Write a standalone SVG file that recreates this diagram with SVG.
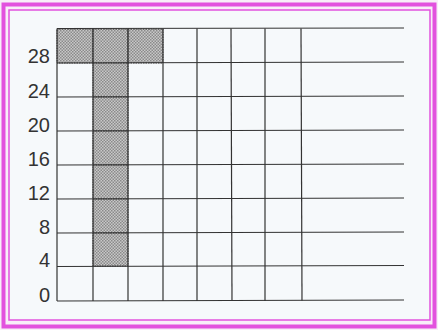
<svg xmlns="http://www.w3.org/2000/svg" width="438" height="330" viewBox="0 0 438 330">
<style>
.g{stroke:#333;stroke-width:1.2;fill:none}
.lbl{font-family:"Liberation Sans",Arial,sans-serif;font-size:20px;fill:#333;text-anchor:end}
.sh{fill:url(#dots);stroke:#444;stroke-width:1;stroke-dasharray:1.5 1}
</style>
<defs>
<pattern id="dots" width="3" height="3" patternUnits="userSpaceOnUse">
<rect width="3" height="3" fill="#c8c8c8"/>
<rect width="1.5" height="1.5" fill="#8a8a8a"/>
<rect x="1.5" y="1.5" width="1.5" height="1.5" fill="#8a8a8a"/>
</pattern>
</defs>
<rect x="0" y="0" width="438" height="330" fill="#f8eef8"/>
<rect x="3.5" y="4.5" width="431" height="322" fill="#f8eef8" stroke="#e252de" stroke-width="4"/>
<rect x="9" y="10" width="421" height="310" fill="#f6f9fb" stroke="#e252de" stroke-width="1.5"/>
<g id="shaded">
<rect class="sh" x="57" y="29" width="36" height="34"/>
<rect class="sh" x="93" y="29" width="35" height="34"/>
<rect class="sh" x="128" y="29" width="35" height="34"/>
<rect class="sh" x="93" y="63" width="35" height="34"/>
<rect class="sh" x="93" y="97" width="35" height="34"/>
<rect class="sh" x="93" y="131" width="35" height="34"/>
<rect class="sh" x="93" y="165" width="35" height="34"/>
<rect class="sh" x="93" y="199" width="35" height="34"/>
<rect class="sh" x="93" y="233" width="35" height="33"/>
</g>
<g id="grid" class="g">
<line x1="57" y1="28.5" x2="404" y2="28"/>
<line x1="57" y1="63" x2="404" y2="62"/>
<line x1="57" y1="97" x2="404" y2="96"/>
<line x1="57" y1="131" x2="404" y2="130"/>
<line x1="57" y1="165" x2="404" y2="164"/>
<line x1="57" y1="199" x2="404" y2="198"/>
<line x1="57" y1="233" x2="404" y2="232"/>
<line x1="57" y1="266.5" x2="404" y2="265.5"/>
<line x1="57" y1="301" x2="404" y2="300"/>
<line x1="57" y1="28.5" x2="57" y2="301"/>
<line x1="93" y1="28.5" x2="93" y2="301"/>
<line x1="128" y1="28.5" x2="128" y2="301"/>
<line x1="163" y1="28.5" x2="163" y2="301"/>
<line x1="197" y1="28.5" x2="197" y2="301"/>
<line x1="231" y1="28.5" x2="232" y2="301"/>
<line x1="265" y1="28.5" x2="265" y2="301"/>
<line x1="301" y1="28.5" x2="302" y2="300.5"/>
</g>
<g id="labels">
<text class="lbl" x="50" y="63">28</text>
<text class="lbl" x="50" y="98">24</text>
<text class="lbl" x="50" y="132">20</text>
<text class="lbl" x="50" y="166">16</text>
<text class="lbl" x="50" y="200">12</text>
<text class="lbl" x="50" y="234">8</text>
<text class="lbl" x="50" y="267">4</text>
<text class="lbl" x="50" y="302">0</text>
</g>
</svg>
